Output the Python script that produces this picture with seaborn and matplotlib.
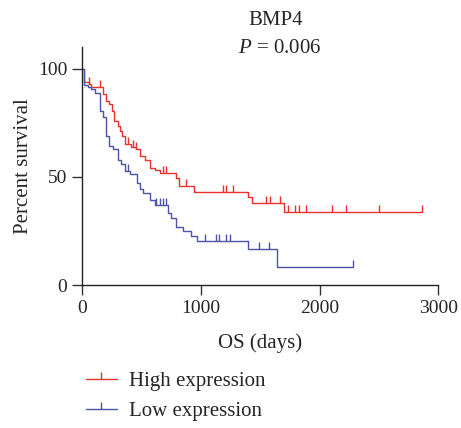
import numpy as np
import pandas as pd
import matplotlib
matplotlib.use('Agg')
import matplotlib.pyplot as plt
from matplotlib.lines import Line2D
import seaborn as sns

# Kaplan-Meier steps (days, percent survival)
high_times = [0, 20, 56, 76, 175, 203, 231, 254, 273, 302, 316, 338, 358, 414, 456, 485,
              527, 569, 611, 654, 789, 817, 941, 1400, 1428, 1704, 2860]
high_surv = [100, 94, 93, 91.5, 88.5, 85, 83.5, 80.5, 76, 73.5, 71, 69, 65, 64, 63, 59.7,
             58, 54, 53.4, 52, 49.6, 45.7, 43, 40.9, 37.8, 33.9, 33.9]
high_censor = [56, 147, 386, 428, 456, 682, 704, 879, 1183, 1211, 1273, 1549, 1583, 1668,
               1733, 1795, 1826, 1888, 2102, 2224, 2496, 2860]

low_times = [0, 20, 48, 76, 113, 147, 175, 203, 231, 259, 302, 330, 358, 400, 462, 485,
             513, 569, 612, 724, 752, 795, 851, 913, 969, 1400, 1640, 2285]
low_surv = [100, 92.5, 91.5, 90.4, 89, 80.6, 77.5, 68.7, 64.4, 63, 58, 55.8, 52.7, 51.2,
            47.3, 44.2, 42.7, 39.5, 37.2, 33.3, 31, 27, 24.8, 22.7, 20.5, 16.5, 8.2, 8.2]
low_censor = [386, 626, 654, 682, 704, 1034, 1127, 1155, 1211, 1245, 1490, 1577, 2285]

groups = ['High expression', 'Low expression']
colors = {'High expression': '#e8322b', 'Low expression': '#4c54a8'}

sns.set_style('ticks')
plt.rcParams['font.family'] = ['Liberation Serif', 'DejaVu Serif']
plt.rcParams['mathtext.fontset'] = 'custom'
plt.rcParams['mathtext.it'] = 'Liberation Serif:italic'


def censor_points(times, surv, censor):
    # survival value at each censor time (step function lookup)
    idx = np.searchsorted(times, censor, side='right') - 1
    return np.array(surv)[idx]


fig = plt.figure(figsize=(4.61, 4.28), dpi=100)
ax = fig.add_axes([0.178, 0.334, 0.773, 0.556])

curves = [(groups[0], high_times, high_surv, high_censor),
          (groups[1], low_times, low_surv, low_censor)]

for name, t, s, c in curves:
    df = pd.DataFrame({'days': t, 'surv': s})
    sns.lineplot(data=df, x='days', y='surv', ax=ax, color=colors[name],
                 drawstyle='steps-post', linewidth=1.0, estimator=None)
    cdf = pd.DataFrame({'days': c, 'surv': censor_points(t, s, c)})
    sns.scatterplot(data=cdf, x='days', y='surv', ax=ax, color=colors[name],
                    marker=2, s=22, linewidth=1.0)

ax.set_xlim(0, 3000)
ax.set_ylim(0, 110)
ax.set_xticks([0, 1000, 2000, 3000])
ax.set_yticks([0, 50, 100])
ax.tick_params(axis='both', labelsize=14, length=7, width=1.0, color='#333333')
for sp in ['left', 'bottom']:
    ax.spines[sp].set_linewidth(1.0)
    ax.spines[sp].set_color('#222222')
sns.despine(ax=ax)
ax.set_xlabel('OS (days)', fontsize=15, labelpad=12)
ax.set_ylabel('Percent survival', fontsize=15, labelpad=4)

fig.text(0.598, 0.953, 'BMP4', ha='center', va='center', fontsize=15)
fig.text(0.607, 0.887, r'$P$ = 0.006', ha='center', va='center', fontsize=15)

handles = [Line2D([], [], color=colors[g], linewidth=1.0, marker=2, markersize=5)
           for g in groups]
fig.legend(handles, groups, loc='upper left', bbox_to_anchor=(0.145, 0.175),
           frameon=False, fontsize=15, handlelength=1.5, handletextpad=0.6,
           labelspacing=0.5, numpoints=1)

fig.savefig('out.png', dpi=100)
